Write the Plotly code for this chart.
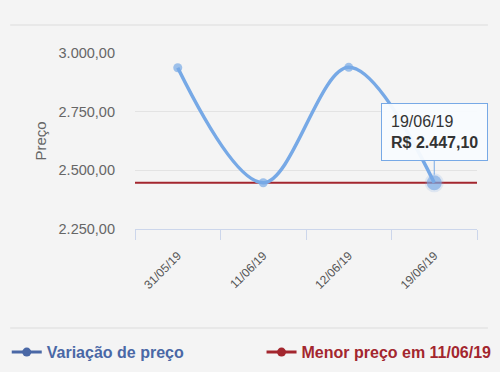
import plotly.graph_objects as go

dates = ["31/05/19", "11/06/19", "12/06/19", "19/06/19"]
prices = [2937.0, 2447.10, 2939.0, 2447.10]
y_ticks = [2250, 2500, 2750, 3000]
y_tick_labels = ["2.250,00", "2.500,00", "2.750,00", "3.000,00"]
series_name = "Variação de preço"
min_date = "11/06/19"
tooltip_index = 3

BLUE = "#77a9e6"
BLUE_DARK = "#4a68a6"
RED = "#a3262e"
FONT = "Liberation Sans"

min_price = min(prices)

fig = go.Figure()

sizes = [9] * len(prices)
sizes[tooltip_index] = 15
line_w = [0] * len(prices)
line_w[tooltip_index] = 4

fig.add_trace(go.Scatter(
    x=dates, y=prices, mode="lines+markers",
    line=dict(color=BLUE, width=3.5, shape="spline", smoothing=1),
    marker=dict(color=BLUE, size=sizes,
                line=dict(color="rgba(119,169,230,0.25)", width=line_w)),
    showlegend=False, hoverinfo="skip", cliponaxis=False,
))

# legend entries
fig.add_trace(go.Scatter(
    x=[None], y=[None], mode="lines+markers",
    line=dict(color=BLUE_DARK, width=3), marker=dict(color=BLUE_DARK, size=9),
    name=f"<b><span style='color:{BLUE_DARK}'>{series_name}</span></b>",
    legend="legend",
))
fig.add_trace(go.Scatter(
    x=[None], y=[None], mode="lines+markers",
    line=dict(color=RED, width=3), marker=dict(color=RED, size=9),
    name=f"<b><span style='color:{RED}'>Menor preço em {min_date}</span></b>",
    legend="legend2",
))

# minimum price line across whole plot
fig.add_shape(type="line", xref="paper", x0=0, x1=1, yref="y", y0=min_price, y1=min_price,
              line=dict(color=RED, width=2), layer="below")

# separators
fig.add_shape(type="line", xref="paper", yref="paper", x0=-0.365, x1=1.032, y0=1.159, y1=1.159,
              line=dict(color="#e4e4e4", width=1.5))
fig.add_shape(type="line", xref="paper", yref="paper", x0=-0.365, x1=1.032, y0=-0.5625, y1=-0.5625,
              line=dict(color="#e4e4e4", width=1.5))

def fmt(v):
    s = f"{v:,.2f}"
    return s.replace(",", "X").replace(".", ",").replace("X", ".")

fig.add_annotation(
    x=dates[tooltip_index], y=prices[tooltip_index],
    text=f"{dates[tooltip_index]}<br><b>R$ {fmt(prices[tooltip_index])}</b>",
    align="left", showarrow=True, arrowhead=0, arrowwidth=1, arrowcolor=BLUE,
    ax=0, ay=-51, standoff=8,
    bgcolor="rgba(248,251,254,0.95)", bordercolor=BLUE, borderwidth=1, borderpad=9,
    font=dict(family=FONT, size=16, color="#333333"),
)

legend_common = dict(orientation="h", xanchor="left", y=-0.70, yanchor="middle",
                     font=dict(family=FONT, size=16), bgcolor="rgba(0,0,0,0)", itemwidth=30)

fig.update_layout(
    width=500, height=372,
    margin=dict(l=135, r=23, t=53, b=143, autoexpand=False),
    paper_bgcolor="#f4f4f4", plot_bgcolor="#f4f4f4",
    font=dict(family=FONT, color="#666666"),
    showlegend=True,
    legend=dict(x=-0.375, **legend_common),
    legend2=dict(x=0.37, **legend_common),
    xaxis=dict(type="category", tickangle=-45, tickson="boundaries", ticks="outside",
               ticklen=10, tickcolor="#ccd6eb", showline=True, linecolor="#ccd6eb", linewidth=1,
               showgrid=False, tickfont=dict(family=FONT, size=12, color="#555555"),
               ticklabelstandoff=14,
               range=[-0.5, len(dates) - 0.5], fixedrange=True),
    yaxis=dict(range=[y_ticks[0], y_ticks[-1]], tickvals=y_ticks, ticktext=y_tick_labels,
               showgrid=True, gridcolor="#e3e3e3", gridwidth=1, zeroline=False,
               tickfont=dict(family=FONT, size=14.5, color="#666666"), ticks="",
               ticklabelstandoff=19,
               title=dict(text="Preço", font=dict(family=FONT, size=15, color="#666666"), standoff=8)),
)

fig.write_html("out.html")
